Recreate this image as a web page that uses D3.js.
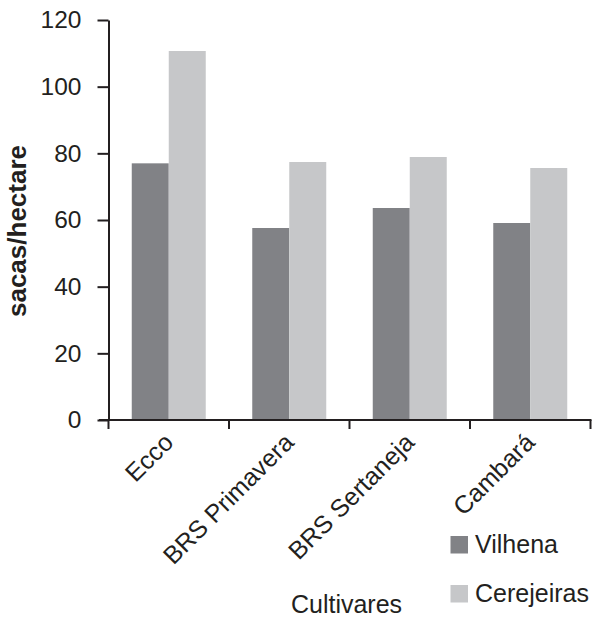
<!DOCTYPE html>
<html>
<head>
<meta charset="utf-8">
<script src="https://cdn.jsdelivr.net/npm/d3@7"></script>
<style>
  html, body { margin: 0; padding: 0; background: #fff; }
  text { font-family: "Liberation Sans", Arial, sans-serif; fill: #231f20; }
</style>
</head>
<body>
<svg id="chart" width="596" height="623"></svg>
<script>
// Yield per cultivar (sacas/hectare) at two sites
const categories = ["Ecco", "BRS Primavera", "BRS Sertaneja", "Cambará"];
const seriesNames = ["Vilhena", "Cerejeiras"];
const vilhena = [77.0, 57.6, 63.6, 59.1];
const cerejeiras = [110.7, 77.4, 78.9, 75.6];
const yTicks = [0, 20, 40, 60, 80, 100, 120];

const seriesValues = [vilhena, cerejeiras];
const colors = ["#818286", "#c6c7c9"];
const ink = "#231f20";

const svg = d3.select("#chart");
const plot = { left: 108.5, right: 590.5, top: 20, bottom: 420 };

const x0 = d3.scaleBand().domain(categories).range([plot.left, plot.right]).padding(0);
const groupFrac = 0.614;
const gOff = x0.bandwidth() * (1 - groupFrac) / 2;
const x1 = d3.scaleBand().domain(seriesNames).range([gOff, x0.bandwidth() - gOff]).padding(0);
const y = d3.scaleLinear().domain([0, 120]).range([plot.bottom, plot.top]);

// Bars
const groups = svg.append("g").selectAll("g")
  .data(categories)
  .join("g")
  .attr("transform", c => `translate(${x0(c)},0)`);

groups.selectAll("rect")
  .data((c, i) => seriesNames.map((s, k) => ({ s, v: seriesValues[k][i], k })))
  .join("rect")
  .attr("x", d => x1(d.s))
  .attr("width", x1.bandwidth())
  .attr("y", d => y(d.v))
  .attr("height", d => y(0) - y(d.v))
  .attr("fill", d => colors[d.k]);

// Y axis
const yAxis = svg.append("g")
  .attr("transform", `translate(${plot.left},0)`)
  .call(d3.axisLeft(y).tickValues(yTicks).tickSize(11).tickSizeOuter(0).tickPadding(16));
yAxis.selectAll("path, line").attr("stroke", ink).attr("stroke-width", 2);
yAxis.selectAll("text").attr("font-size", 24.5).attr("fill", ink)
  .style("font-family", '"Liberation Sans", Arial, sans-serif');

// X axis: baseline with ticks at category boundaries
const bounds = categories.map(c => x0(c)).concat([x0(categories[categories.length - 1]) + x0.bandwidth()]);
const xAxis = svg.append("g");
xAxis.append("line")
  .attr("x1", 99).attr("x2", plot.right + 1)
  .attr("y1", y(0)).attr("y2", y(0))
  .attr("stroke", ink).attr("stroke-width", 2);
xAxis.selectAll("line.tick")
  .data(bounds)
  .join("line")
  .attr("class", "tick")
  .attr("x1", d => d).attr("x2", d => d)
  .attr("y1", y(0)).attr("y2", y(0) + 9)
  .attr("stroke", ink).attr("stroke-width", 2);

xAxis.selectAll("text.cat")
  .data(categories)
  .join("text")
  .attr("class", "cat")
  .attr("text-anchor", "end")
  .attr("font-size", 25)
  .attr("transform", c => `translate(${x0(c) + x0.bandwidth() / 2 + 6},444) rotate(-45)`)
  .text(c => c);

// Axis titles
svg.append("text")
  .attr("text-anchor", "middle")
  .attr("font-size", 26)
  .attr("font-weight", "bold")
  .attr("transform", "translate(25.5,231) rotate(-90)")
  .text("sacas/hectare");

svg.append("text")
  .attr("text-anchor", "middle")
  .attr("font-size", 25)
  .attr("x", 346.5).attr("y", 613)
  .text("Cultivares");

// Legend
const legend = svg.append("g").selectAll("g")
  .data(seriesNames)
  .join("g")
  .attr("transform", (d, i) => `translate(450.5,${536 + i * 49})`);
legend.append("rect")
  .attr("width", 17.5).attr("height", 17.5)
  .attr("fill", (d, i) => colors[i]);
legend.append("text")
  .attr("x", 24.5).attr("y", 16.5)
  .attr("font-size", 25)
  .text(d => d);
</script>
</body>
</html>
